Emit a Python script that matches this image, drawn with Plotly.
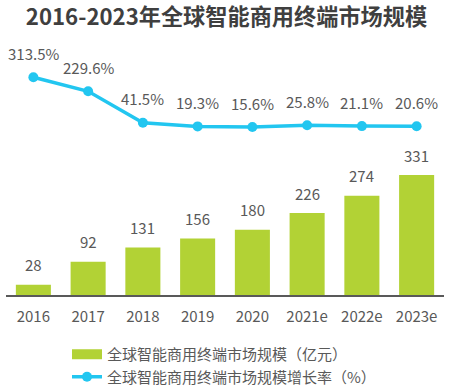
import plotly.graph_objects as go

years = ["2016", "2017", "2018", "2019", "2020", "2021e", "2022e", "2023e"]
market_size = [28, 92, 131, 156, 180, 226, 274, 331]
growth_rate = [313.5, 229.6, 41.5, 19.3, 15.6, 25.8, 21.1, 20.6]
growth_labels = ["313.5%", "229.6%", "41.5%", "19.3%", "15.6%", "25.8%", "21.1%", "20.6%"]

title_text = "2016-2023年全球智能商用终端市场规模"
bar_name = "全球智能商用终端市场规模（亿元）"
line_name = "全球智能商用终端市场规模增长率（%）"

BAR_COLOR = "#b2d235"
LINE_COLOR = "#22c6f0"
TEXT_COLOR = "#595959"
FONT = "Noto Sans CJK SC, Noto Sans, sans-serif"

fig = go.Figure()

fig.add_trace(go.Bar(
    x=years, y=market_size, name=bar_name, marker=dict(color=BAR_COLOR, line=dict(width=0)),
    showlegend=False, hoverinfo="skip", yaxis="y"))

# legend proxy for the bar series (wide flat swatch)
fig.add_trace(go.Scatter(
    x=[years[0]], y=[None], mode="lines", name=bar_name,
    line=dict(color=BAR_COLOR, width=10), yaxis="y", hoverinfo="skip"))

fig.add_trace(go.Scatter(
    x=years, y=growth_rate, name=line_name, mode="lines+markers",
    line=dict(color=LINE_COLOR, width=3.5), marker=dict(color=LINE_COLOR, size=10),
    yaxis="y2", hoverinfo="skip"))

annotations = []
for i, v in enumerate(market_size):
    annotations.append(dict(x=i, y=v, xref="x", yref="y", text=str(v), showarrow=False,
                            yanchor="middle", yshift=20,
                            font=dict(size=15, color=TEXT_COLOR, family=FONT)))
for i, (v, lab) in enumerate(zip(growth_rate, growth_labels)):
    annotations.append(dict(x=i, y=v, xref="x", yref="y2", text=lab, showarrow=False,
                            yanchor="middle", yshift=24,
                            font=dict(size=15, color=TEXT_COLOR, family=FONT)))

fig.update_layout(
    width=453, height=386,
    margin=dict(l=6, r=9, t=40, b=91, autoexpand=False),
    paper_bgcolor="white", plot_bgcolor="white",
    font=dict(family=FONT, size=15, color=TEXT_COLOR),
    title=dict(text="<b>" + title_text + "</b>", x=0.5, xanchor="center", y=1 - 17 / 386,
               yanchor="middle", font=dict(size=22.2, color="#3f3f3f", family=FONT)),
    bargap=0.36,
    xaxis=dict(type="category", categoryorder="array", categoryarray=years, range=[-0.5, 7.5],
               showgrid=False, showline=True, linecolor="#595959", linewidth=1.5,
               ticks="", ticklabelstandoff=7, tickfont=dict(size=15, color=TEXT_COLOR, family=FONT),
               zeroline=False),
    yaxis=dict(range=[0, 703.4], visible=False, showgrid=False, zeroline=False),
    yaxis2=dict(range=[-991, 537], visible=False, overlaying="y", showgrid=False, zeroline=False),
    showlegend=True,
    legend=dict(x=67 / 453, xref="container", xanchor="left", y=1 - 338 / 386, yref="container",
                yanchor="top", orientation="v", font=dict(size=15, color=TEXT_COLOR, family=FONT),
                bgcolor="rgba(0,0,0,0)", borderwidth=0, tracegroupgap=0, itemwidth=30),
    annotations=annotations,
)

fig.write_html("out.html", config={"displayModeBar": False},
               post_script="document.body.style.margin='0';")
